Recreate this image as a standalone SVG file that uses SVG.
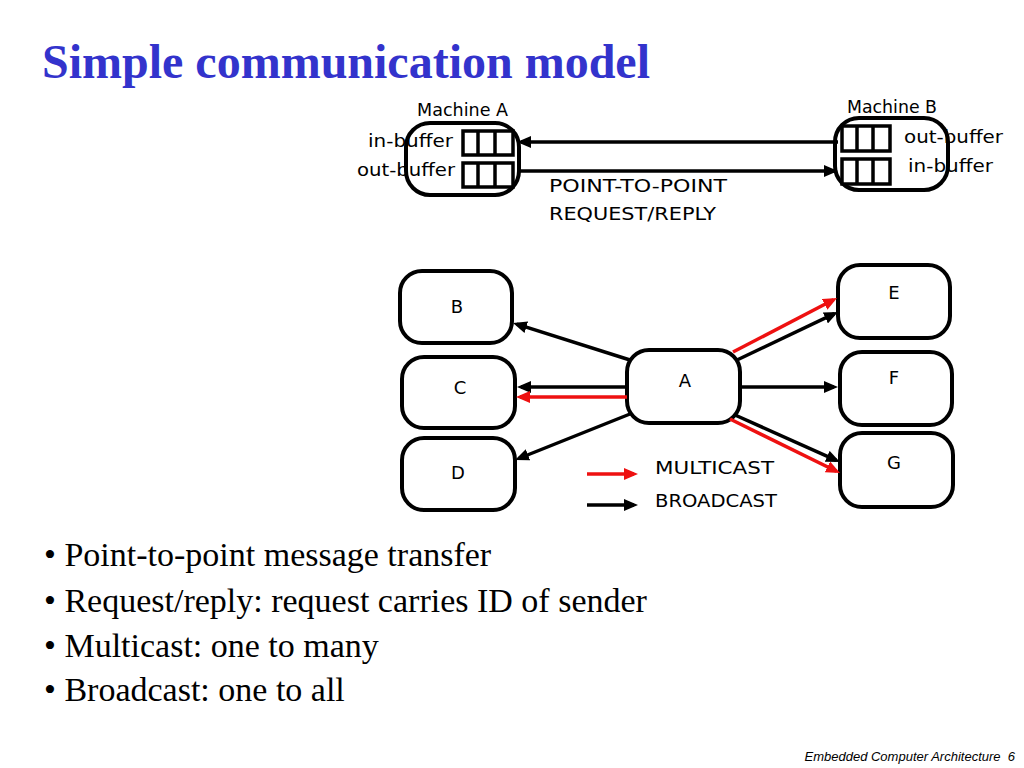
<svg xmlns="http://www.w3.org/2000/svg" width="1024" height="768" viewBox="0 0 1024 768">
<defs>
<style>
.box{fill:#fff;stroke:#000;stroke-width:4}
.buf{fill:#fff;stroke:#000;stroke-width:3.5}
.lbl{font-family:"DejaVu Sans","Noto Sans",sans-serif;font-size:18px;fill:#000}
.blk{stroke:#000;stroke-width:3.5;fill:none}
.red{stroke:#ee1111;stroke-width:3.5;fill:none}
.bul{font-family:"Liberation Serif",serif;font-size:34px;fill:#000}
</style>
<marker id="ab" markerUnits="userSpaceOnUse" markerWidth="14" markerHeight="12" viewBox="0 0 14 12" refX="10" refY="6" orient="auto"><path d="M0,0 L14,6 L0,12 z" fill="#000"/></marker>
<marker id="ar" markerUnits="userSpaceOnUse" markerWidth="14" markerHeight="12" viewBox="0 0 14 12" refX="10" refY="6" orient="auto"><path d="M0,0 L14,6 L0,12 z" fill="#ee1111"/></marker>
</defs>
<rect width="1024" height="768" fill="#fff"/>
<text x="42" y="78" font-family="Liberation Serif,serif" font-weight="bold" font-size="48" fill="#3333cc">Simple communication model</text>

<g id="machineA">
<rect class="box" x="406" y="123" width="113" height="72" rx="24"/>
<rect class="buf" x="463" y="131" width="50" height="24"/>
<line class="blk" x1="478" y1="131" x2="478" y2="155"/>
<line class="blk" x1="495" y1="131" x2="495" y2="155"/>
<rect class="buf" x="463" y="163" width="50" height="24"/>
<line class="blk" x1="478" y1="163" x2="478" y2="187"/>
<line class="blk" x1="495" y1="163" x2="495" y2="187"/>
<text class="lbl" x="417" y="116" textLength="91" lengthAdjust="spacingAndGlyphs">Machine A</text>
<text class="lbl" x="368" y="147" textLength="85" lengthAdjust="spacingAndGlyphs">in-buffer</text>
<text class="lbl" x="357" y="176" textLength="98" lengthAdjust="spacingAndGlyphs">out-buffer</text>
</g>
<g id="machineB">
<rect class="box" x="835" y="118" width="113" height="72" rx="24"/>
<rect class="buf" x="842" y="126" width="48" height="25"/>
<line class="blk" x1="857" y1="126" x2="857" y2="151"/>
<line class="blk" x1="873" y1="126" x2="873" y2="151"/>
<rect class="buf" x="842" y="159" width="48" height="25"/>
<line class="blk" x1="857" y1="159" x2="857" y2="184"/>
<line class="blk" x1="873" y1="159" x2="873" y2="184"/>
<text class="lbl" x="847" y="113" textLength="90" lengthAdjust="spacingAndGlyphs">Machine B</text>
<text class="lbl" x="904" y="143" textLength="99" lengthAdjust="spacingAndGlyphs">out-buffer</text>
<text class="lbl" x="908" y="172" textLength="85" lengthAdjust="spacingAndGlyphs">in-buffer</text>
</g>

<g id="nodeB"><rect class="box" x="400" y="271" width="112" height="72" rx="22"/><text class="lbl" x="457" y="313" text-anchor="middle">B</text></g>
<g id="nodeC"><rect class="box" x="402" y="357" width="113" height="71" rx="22"/><text class="lbl" x="460" y="394" text-anchor="middle">C</text></g>
<g id="nodeD"><rect class="box" x="402" y="438" width="113" height="72" rx="22"/><text class="lbl" x="458" y="479" text-anchor="middle">D</text></g>
<g id="nodeA"><rect class="box" x="627" y="350" width="113" height="73" rx="22"/><text class="lbl" x="685" y="387" text-anchor="middle">A</text></g>
<g id="nodeE"><rect class="box" x="838" y="265" width="112" height="73" rx="22"/><text class="lbl" x="894" y="299" text-anchor="middle">E</text></g>
<g id="nodeF"><rect class="box" x="840" y="352" width="112" height="73" rx="22"/><text class="lbl" x="894" y="384" text-anchor="middle">F</text></g>
<g id="nodeG"><rect class="box" x="840" y="433" width="113" height="74" rx="22"/><text class="lbl" x="894" y="469" text-anchor="middle">G</text></g>

<g id="connectors">
<line class="blk" x1="838" y1="142" x2="521" y2="142" marker-end="url(#ab)"/>
<line class="blk" x1="519" y1="171" x2="834" y2="171" marker-end="url(#ab)"/>
<line class="blk" x1="630" y1="360" x2="516.8" y2="324.2" marker-end="url(#ab)"/>
<line class="blk" x1="627" y1="387" x2="521" y2="387" marker-end="url(#ab)"/>
<line class="red" x1="627" y1="397" x2="520" y2="397" marker-end="url(#ar)"/>
<line class="blk" x1="630" y1="414" x2="518.7" y2="458.5" marker-end="url(#ab)"/>
<line class="red" x1="733" y1="352" x2="833.5" y2="299.8" marker-end="url(#ar)"/>
<line class="blk" x1="737" y1="360" x2="834.4" y2="313.7" marker-end="url(#ab)"/>
<line class="blk" x1="740" y1="387" x2="834" y2="387" marker-end="url(#ab)"/>
<line class="blk" x1="735" y1="415" x2="836.3" y2="460.4" marker-end="url(#ab)"/>
<line class="red" x1="730" y1="419" x2="836.4" y2="471.2" marker-end="url(#ar)"/>
<line class="red" x1="587" y1="474" x2="634" y2="474" marker-end="url(#ar)"/>
<line class="blk" x1="587" y1="505" x2="634" y2="505" marker-end="url(#ab)"/>
</g>

<g id="labels">
<text class="lbl" x="549" y="192" textLength="178" lengthAdjust="spacingAndGlyphs">POINT-TO-POINT</text>
<text class="lbl" x="549" y="220" textLength="167" lengthAdjust="spacingAndGlyphs">REQUEST/REPLY</text>
<text class="lbl" x="655" y="474" textLength="119" lengthAdjust="spacingAndGlyphs">MULTICAST</text>
<text class="lbl" x="655" y="507" textLength="122" lengthAdjust="spacingAndGlyphs">BROADCAST</text>
</g>

<g id="bullets">
<text class="bul" x="44" y="566">• Point-to-point message transfer</text>
<text class="bul" x="44" y="612">• Request/reply: request carries ID of sender</text>
<text class="bul" x="44" y="657">• Multicast: one to many</text>
<text class="bul" x="44" y="701">• Broadcast: one to all</text>
</g>
<text x="1015" y="761" text-anchor="end" font-family="Liberation Sans,sans-serif" font-style="italic" font-size="13" fill="#000" style="white-space:pre">Embedded Computer Architecture  6</text>
</svg>
